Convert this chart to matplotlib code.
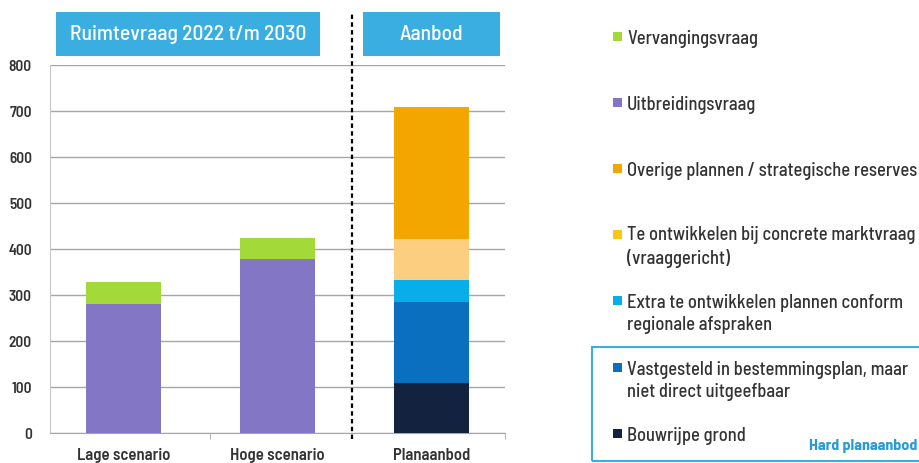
import matplotlib.pyplot as plt
import numpy as np
from matplotlib.patches import Rectangle

plt.rcParams['font.family'] = ['Barlow Semi Condensed', 'DejaVu Sans']
plt.rcParams['font.stretch'] = 'condensed'

# vraag: lage en hoge scenario
vraag_labels = ['Lage scenario', 'Hoge scenario']
uitbreidingsvraag = [280, 378]
vervangingsvraag = [48, 47]

# aanbod: plannen gestapeld van onder naar boven
aanbod_label = 'Planaanbod'
aanbod_namen = [
    'Bouwrijpe grond',
    'Vastgesteld in bestemmingsplan, maar\nniet direct uitgeefbaar',
    'Extra te ontwikkelen plannen conform\nregionale afspraken',
    'Te ontwikkelen bij concrete marktvraag\n(vraaggericht)',
    'Overige plannen / strategische reserves',
]
aanbod_waarden = [108, 176, 49, 88, 288]
aanbod_kleuren = ['#13223f', '#0a6fbe', '#08adea', '#fccf80', '#f4a600']
aanbod_legend = ['#13223f', '#0a6fbe', '#08adea', '#f9c712', '#f4a600']

kleur_uitbreiding = '#8376c4'
kleur_vervanging = '#a3da3a'
kop_blauw = '#3aaee0'
tekst = '#333333'

W, H = 920, 464
fig = plt.figure(figsize=(W / 100, H / 100), dpi=100)
ax = fig.add_axes([50 / W, 30 / H, 455 / W, 368 / H])

x = np.arange(3)
breedte = 0.49
ax.bar(x[:2], uitbreidingsvraag, breedte, color=kleur_uitbreiding, zorder=3)
ax.bar(x[:2], vervangingsvraag, breedte, bottom=uitbreidingsvraag,
       color=kleur_vervanging, zorder=3)

onder = 0
for waarde, kleur in zip(aanbod_waarden, aanbod_kleuren):
    ax.bar(x[2], waarde, breedte, bottom=onder, color=kleur, zorder=3)
    onder += waarde

ax.set_xlim(-0.48, 2.48)
ax.set_ylim(0, 800)
ax.set_yticks(np.arange(0, 801, 100))
ax.yaxis.grid(True, color='#a6a6a6', linewidth=1.0, zorder=0)
ax.set_axisbelow(True)

ax.set_xticks(x)
ax.set_xticklabels(vraag_labels + [aanbod_label], fontsize=12,
                   color=tekst, fontweight='semibold')
ax.set_xticks([0.56, 2.48], minor=True)
ax.tick_params(axis='x', which='major', length=0, pad=10)
ax.tick_params(axis='x', which='minor', length=4, color='#a6a6a6')
ax.tick_params(axis='y', length=0, pad=13, labelsize=11, labelcolor=tekst)
for lbl in ax.get_yticklabels():
    lbl.set_fontweight('semibold')

for kant in ['top', 'right']:
    ax.spines[kant].set_visible(False)
ax.spines['left'].set_color('#c8c8c8')
ax.spines['bottom'].set_color('#a6a6a6')

# scheidingslijn tussen vraag en aanbod
ax.plot([1.485, 1.485], [-13, 915], color='black', linestyle=(0, (2, 1.5)),
        linewidth=1.6, clip_on=False, zorder=4)

# kopjes boven de grafiek
def kopje(x0, x1, label):
    fig.patches.append(Rectangle((x0 / W, 1 - 57 / H), (x1 - x0) / W, 44 / H,
                                 transform=fig.transFigure, facecolor=kop_blauw,
                                 edgecolor='none'))
    fig.text((x0 + x1) / 2 / W, 1 - 35 / H, label, color='white',
             fontsize=15.5, fontweight='medium', ha='center', va='center')

kopje(56, 320, 'Ruimtevraag 2022 t/m 2030')
kopje(363, 500, 'Aanbod')

# legenda: naam, kleur, basislijn van de eerste regel (px van boven)
legend_items = [
    ('Vervangingsvraag', kleur_vervanging, 44),
    ('Uitbreidingsvraag', kleur_uitbreiding, 110),
    (aanbod_namen[4], aanbod_legend[4], 176),
    (aanbod_namen[3], aanbod_legend[3], 242),
    (aanbod_namen[2], aanbod_legend[2], 308),
    (aanbod_namen[1], aanbod_legend[1], 375),
    (aanbod_namen[0], aanbod_legend[0], 441),
]
regelafstand = 22
for naam, kleur, y in legend_items:
    fig.patches.append(Rectangle((613 / W, 1 - (y - 2) / H), 9 / W, 9 / H,
                                 transform=fig.transFigure, facecolor=kleur,
                                 edgecolor='none'))
    # bij meerdere regels ligt de basislijn op de laatste regel
    y_laatste = y + regelafstand * naam.count('\n')
    fig.text(627 / W, 1 - y_laatste / H, naam, fontsize=13.3, color=tekst,
             fontweight='medium', ha='left', va='baseline', linespacing=1.3)

fig.patches.append(Rectangle((592 / W, 1 - 462 / H), 340 / W, 114 / H,
                             transform=fig.transFigure, facecolor='none',
                             edgecolor='#3aaee0', linewidth=1.5))
fig.text(917 / W, 1 - 446 / H, 'Hard planaanbod', fontsize=11.5,
         color='#2a9ad6', fontweight='bold', ha='right', va='center')

fig.savefig('out.png', dpi=100)
